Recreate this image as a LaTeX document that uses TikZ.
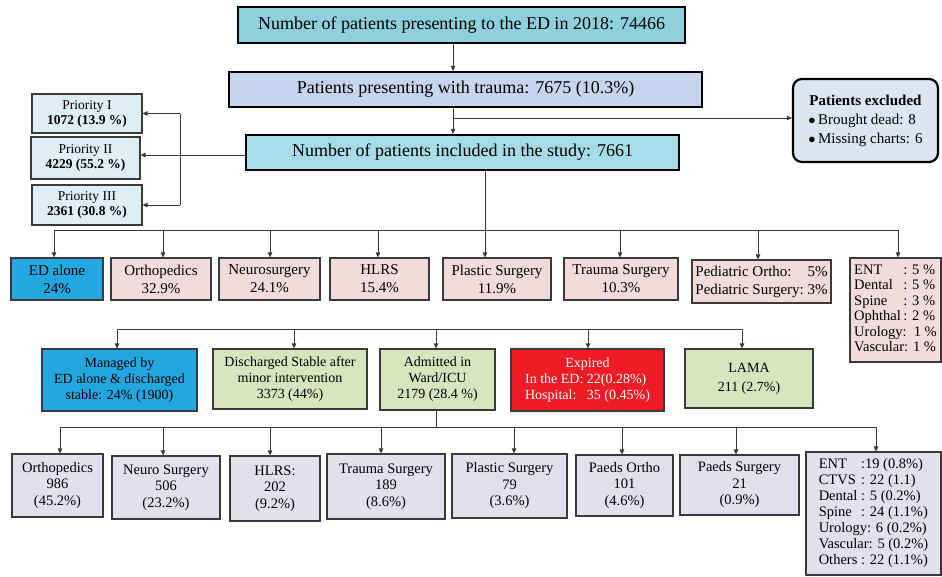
\documentclass[tikz,border=0pt]{standalone}
\usepackage{fontspec}
\setmainfont{Liberation Serif}
\usetikzlibrary{arrows.meta}
\definecolor{cTop}{HTML}{8FD0DD}
\definecolor{cTrauma}{HTML}{C6D5EE}
\definecolor{cIncl}{HTML}{A6DCE7}
\definecolor{cExcl}{HTML}{DCE6F2}
\definecolor{cPrio}{HTML}{DDEEF5}
\definecolor{cPink}{HTML}{F2DCDB}
\definecolor{cGreen}{HTML}{D8E4BC}
\definecolor{cLav}{HTML}{E4DFEC}
\definecolor{cBlue}{HTML}{22A7E0}
\definecolor{cRed}{HTML}{ED1C24}
\definecolor{cLine}{HTML}{3A3A3A}
\tikzset{
  mainbox/.style={draw=black, line width=2.2pt, inner sep=2pt, font=\fontsize{18}{21}\selectfont},
  thinbox/.style={draw=cLine, line width=1.1pt, inner sep=3pt, align=center},
  rowone/.style={thinbox, font=\fontsize{15}{18}\selectfont},
  rowtwo/.style={thinbox, font=\fontsize{14}{16}\selectfont},
  rowthree/.style={thinbox, font=\fontsize{14.5}{16.5}\selectfont},
  prio/.style={thinbox, fill=cPrio, font=\fontsize{13.5}{15}\selectfont},
  conn/.style={draw=cLine, line width=0.9pt},
  arr/.style={conn, -{Triangle[length=5pt,width=4.5pt]}},
}
\begin{document}
\begin{tikzpicture}[x=1pt,y=-1pt]
\useasboundingbox (0,0) rectangle (942,576);
% top chain
\node[mainbox, fill=cTop, minimum width=447pt, minimum height=36pt] (top) at (461.5,25) {Number of patients presenting to the ED in 2018: 74466};
\node[mainbox, fill=cTrauma, minimum width=473pt, minimum height=35pt] (trauma) at (465.5,89.5) {Patients presenting with trauma: 7675 (10.3\%)};
\node[mainbox, fill=cIncl, minimum width=433pt, minimum height=35pt] (incl) at (462.5,152.5) {Number of patients included in the study: 7661};
\node[draw=black, line width=2.2pt, rounded corners=9pt, fill=cExcl, minimum width=145pt, minimum height=83pt, font=\fontsize{15}{19}\selectfont] (excl) at (865.5,120.5)
  {\begin{tabular}{@{}l@{}}\multicolumn{1}{@{}c@{}}{\bfseries Patients excluded}\\ $\bullet$\,Brought dead: 8\\ $\bullet$\,Missing charts: 6\end{tabular}};
\coordinate (ax) at (453,118);
\draw[arr] (top.south -| ax) -- (trauma.north -| ax);
\draw[arr] (trauma.south -| ax) -- (incl.north -| ax);
\draw[arr] (ax) -- (excl.west |- ax);
% priorities
\node[prio, minimum width=110pt, minimum height=39pt] (p1) at (87,113.5) {Priority I\\\bfseries 1072 (13.9 \%)};
\node[prio, minimum width=109pt, minimum height=42pt] (p2) at (85.5,158) {Priority II\\\bfseries 4229 (55.2 \%)};
\node[prio, minimum width=110pt, minimum height=40pt] (p3) at (87,205) {Priority III\\\bfseries 2361 (30.8 \%)};
\coordinate (pl) at (180,155);
\draw[arr] (incl.west |- pl) -- (p2.east |- pl);
\draw[conn] (pl |- p1.east) -- (pl |- p3.east);
\draw[arr] (pl |- p1.east) -- (p1.east);
\draw[arr] (pl |- p3.east) -- (p3.east);
% row 1
\node[rowone, fill=cBlue, minimum width=92pt, minimum height=42pt] (r1a) at (57,279) {ED alone\\24\%};
\node[rowone, fill=cPink, minimum width=100pt, minimum height=42pt] (r1b) at (161,279) {Orthopedics\\32.9\%};
\node[rowone, fill=cPink, minimum width=101pt, minimum height=42pt] (r1c) at (269.5,279) {Neurosurgery\\24.1\%};
\node[rowone, fill=cPink, minimum width=99pt, minimum height=42pt] (r1d) at (379.5,279) {HLRS\\15.4\%};
\node[rowone, fill=cPink, minimum width=108pt, minimum height=42pt] (r1e) at (497,279) {Plastic Surgery\\11.9\%};
\node[rowone, fill=cPink, minimum width=114pt, minimum height=42pt] (r1f) at (621,279) {Trauma Surgery\\10.3\%};
\node[rowone, fill=cPink, minimum width=139pt, minimum height=43pt] (r1g) at (761.5,281.5)
  {\begin{tabular}{@{}l@{\ }r@{}}Pediatric Ortho: & 5\%\\ Pediatric Surgery: & 3\%\end{tabular}};
\node[thinbox, fill=cPink, minimum width=91pt, minimum height=104pt, inner sep=1pt, font=\fontsize{14.5}{15.4}\selectfont] (r1h) at (895.5,310)
  {\begin{tabular}{@{}l@{\,}l@{}}ENT & : 5 \%\\ Dental & : 5 \%\\ Spine & : 3 \%\\ Ophthal & : 2 \%\\ \multicolumn{2}{@{}l@{}}{Urology:\ \ 1 \%}\\ \multicolumn{2}{@{}l@{}}{Vascular: 1 \%}\end{tabular}};
\coordinate (b1) at (0,230);
\draw[conn] (incl.south -| 485,0) -- (485,0 |- b1);
\draw[conn] (54,0 |- b1) -- (898,0 |- b1);
\draw[arr] (54,0 |- b1) -- (54,0 |- r1a.north);
\draw[arr] (163,0 |- b1) -- (163,0 |- r1b.north);
\draw[arr] (270,0 |- b1) -- (270,0 |- r1c.north);
\draw[arr] (378,0 |- b1) -- (378,0 |- r1d.north);
\draw[arr] (485,0 |- b1) -- (485,0 |- r1e.north);
\draw[arr] (620,0 |- b1) -- (620,0 |- r1f.north);
\draw[arr] (758,0 |- b1) -- (758,0 |- r1g.north);
\draw[arr] (898,0 |- b1) -- (898,0 |- r1h.north);
% row 2
\node[rowtwo, fill=cBlue, minimum width=155pt, minimum height=62pt] (r2a) at (119.5,380) {Managed by\\ED alone \& discharged\\stable: 24\% (1900)};
\node[rowtwo, fill=cGreen, minimum width=154pt, minimum height=60pt] (r2b) at (290,379) {Discharged Stable after\\minor intervention\\3373 (44\%)};
\node[rowtwo, fill=cGreen, minimum width=115pt, minimum height=61pt] (r2c) at (437.5,379.5) {Admitted in\\Ward/ICU\\2179 (28.4 \%)};
\node[rowtwo, fill=cRed, text=white, minimum width=153pt, minimum height=62pt] (r2d) at (587.5,380)
  {\begin{tabular}{@{}l@{}}\multicolumn{1}{@{}c@{}}{Expired}\\In the ED: 22(0.28\%)\\Hospital:\ \ \ 35 (0.45\%)\end{tabular}};
\node[rowtwo, fill=cGreen, minimum width=128pt, minimum height=59pt, font=\fontsize{14}{19}\selectfont] (r2e) at (749,378.5) {LAMA\\211 (2.7\%)};
\coordinate (b2) at (0,329);
\draw[conn] (117,0 |- b2) -- (742,0 |- b2);
\draw[arr] (117,0 |- b2) -- (117,0 |- r2a.north);
\draw[arr] (294,0 |- b2) -- (294,0 |- r2b.north);
\draw[arr] (436,0 |- b2) -- (436,0 |- r2c.north);
\draw[arr] (588,0 |- b2) -- (588,0 |- r2d.north);
\draw[arr] (742,0 |- b2) -- (742,0 |- r2e.north);
% row 3
\node[rowthree, fill=cLav, minimum width=91pt, minimum height=63pt] (r3a) at (57.5,485.5) {Orthopedics\\986\\(45.2\%)};
\node[rowthree, fill=cLav, minimum width=108pt, minimum height=63pt] (r3b) at (166,487.5) {Neuro Surgery\\506\\(23.2\%)};
\node[rowthree, fill=cLav, minimum width=90pt, minimum height=65pt] (r3c) at (275,488.5) {HLRS:\\202\\(9.2\%)};
\node[rowthree, fill=cLav, minimum width=118pt, minimum height=65pt] (r3d) at (386,486.5) {Trauma Surgery\\189\\(8.6\%)};
\node[rowthree, fill=cLav, minimum width=115pt, minimum height=64pt] (r3e) at (509.5,486) {Plastic Surgery\\79\\(3.6\%)};
\node[rowthree, fill=cLav, minimum width=97pt, minimum height=61pt] (r3f) at (624.5,485.5) {Paeds Ortho\\101\\(4.6\%)};
\node[rowthree, fill=cLav, minimum width=119pt, minimum height=60pt] (r3g) at (739.5,485) {Paeds Surgery\\21\\(0.9\%)};
\node[thinbox, fill=cLav, minimum width=135pt, minimum height=123pt, inner sep=2pt, font=\fontsize{14.5}{16}\selectfont] (r3h) at (873.5,513.5)
  {\begin{tabular}{@{}l@{\ }l@{}}ENT & :19 (0.8\%)\\ CTVS & : 22 (1.1)\\ Dental & : 5 (0.2\%)\\ Spine & : 24 (1.1\%)\\ \multicolumn{2}{@{}l@{}}{Urology: 6 (0.2\%)}\\ \multicolumn{2}{@{}l@{}}{Vascular: 5 (0.2\%)}\\ Others & : 22 (1.1\%)\end{tabular}};
\coordinate (b3) at (0,427);
\draw[conn] (r2c.south -| 436,0) -- (436,0 |- b3);
\draw[conn] (60,0 |- b3) -- (876,0 |- b3);
\draw[arr] (60,0 |- b3) -- (60,0 |- r3a.north);
\draw[arr] (163,0 |- b3) -- (163,0 |- r3b.north);
\draw[arr] (270,0 |- b3) -- (270,0 |- r3c.north);
\draw[arr] (381,0 |- b3) -- (381,0 |- r3d.north);
\draw[arr] (514,0 |- b3) -- (514,0 |- r3e.north);
\draw[arr] (622,0 |- b3) -- (622,0 |- r3f.north);
\draw[arr] (736,0 |- b3) -- (736,0 |- r3g.north);
\draw[arr] (876,0 |- b3) -- (876,0 |- r3h.north);
\end{tikzpicture}
\end{document}
